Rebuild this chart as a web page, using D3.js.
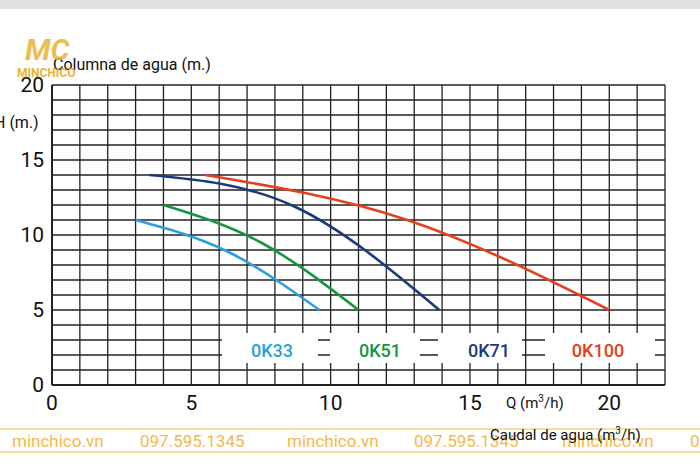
<!DOCTYPE html><html><head><meta charset="utf-8">
<script src="https://cdn.jsdelivr.net/npm/d3@7"></script>
<style>body{margin:0;background:#fff}text{font-family:Roboto,sans-serif}</style></head><body>
<script>
const xTicks=[0,5,10,15,20];
const yTicks=[0,5,10,15,20];
const names=["0K33","0K51","0K71","0K100"];
const colors=["#2a9fdc","#17963f","#1b3a7a","#e3401c"];
const labelX=[272,380,489,598];
const s33=[[3,11],[6.3,8.9],[9.6,5]];
const s51=[[4,12],[7.5,9.5],[11,5]];
const s71=[[3.5,14],[8.7,11.9],[13.9,5]];
const s100=[[5.5,14],[12.75,11],[20,5]];
const series=[s33,s51,s71,s100];
const W=700,H=467;
const svg=d3.select("body").append("svg").attr("width",W).attr("height",H);
const x=d3.scaleLinear().domain([0,22]).range([52,665]);
const y=d3.scaleLinear().domain([0,20]).range([385,85]);
svg.append("rect").attr("width",W).attr("height",9).attr("fill","#dfe3e6");
const g=svg.append("g");
d3.range(0,23).forEach(i=>g.append("line").attr("x1",x(i)).attr("x2",x(i)).attr("y1",y(0)).attr("y2",y(20)).attr("stroke","#222").attr("stroke-width",1.3));
d3.range(0,21).forEach(i=>g.append("line").attr("y1",y(i)).attr("y2",y(i)).attr("x1",x(0)).attr("x2",x(22)).attr("stroke","#222").attr("stroke-width",1.3));
g.append("line").attr("x1",x(0)).attr("x2",x(22)).attr("y1",y(0)).attr("y2",y(0)).attr("stroke","#222").attr("stroke-width",2);
g.append("line").attr("x1",x(0)).attr("x2",x(0)).attr("y1",y(0)).attr("y2",y(20)).attr("stroke","#222").attr("stroke-width",2);
const line=d3.line().x(d=>x(d[0])).y(d=>y(d[1])).curve(d3.curveNatural);
series.forEach((s,i)=>svg.append("path").attr("d",line(s)).attr("fill","none").attr("stroke",colors[i]).attr("stroke-width",2.6));
const boxes=[[222,318],[330,420],[438,522],[545,655]];
boxes.forEach(b=>svg.append("rect").attr("x",b[0]).attr("y",333).attr("width",b[1]-b[0]).attr("height",30).attr("fill","#fff"));
names.forEach((n,i)=>svg.append("text").attr("x",labelX[i]).attr("y",357).attr("text-anchor","middle").attr("font-size",18).attr("font-weight",500).attr("fill",colors[i]).text(n));
xTicks.forEach(t=>svg.append("text").attr("x",x(t)).attr("y",410).attr("text-anchor","middle").attr("font-size",21).attr("fill","#111").text(t));
yTicks.forEach(t=>svg.append("text").attr("x",44).attr("y",y(t)+7).attr("text-anchor","end").attr("font-size",21).attr("fill","#111").text(t));
svg.append("text").attr("x",53).attr("y",70).attr("font-size",16).attr("fill","#111").text("Columna de agua (m.)");
svg.append("text").attr("x",-6).attr("y",128).attr("font-size",16).attr("fill","#111").text("H (m.)");
svg.append("text").attr("x",506).attr("y",408).attr("font-size",15).attr("fill","#111").html("Q (m<tspan dy='-6' font-size='10'>3</tspan><tspan dy='6'>/h)</tspan>");
svg.append("line").attr("x1",0).attr("x2",W).attr("y1",429).attr("y2",429).attr("stroke","#f3b94a");
svg.append("line").attr("x1",0).attr("x2",W).attr("y1",452).attr("y2",452).attr("stroke","#f3b94a");
const wm=[["minchico.vn",12],["097.595.1345",140],["minchico.vn",287],["097.595.1345",414],["minchico.vn",562],["0",690]];
wm.forEach(w=>svg.append("text").attr("x",w[1]).attr("y",447).attr("font-size",17).attr("fill","#f3b94a").text(w[0]));
svg.append("text").attr("x",490).attr("y",440).attr("font-size",15).attr("fill","#111").html("Caudal de agua (m<tspan dy='-6' font-size='10'>3</tspan><tspan dy='6'>/h)</tspan>");
svg.append("text").attr("x",17).attr("y",77).attr("font-size",12).attr("font-weight",700).attr("fill","#e8b338").text("MINCHICO");
svg.append("text").attr("x",25).attr("y",60).attr("font-size",30).attr("font-weight",700).attr("font-style","italic").attr("fill","#e8b338").attr("opacity",0.85).text("MC");
</script></body></html>
